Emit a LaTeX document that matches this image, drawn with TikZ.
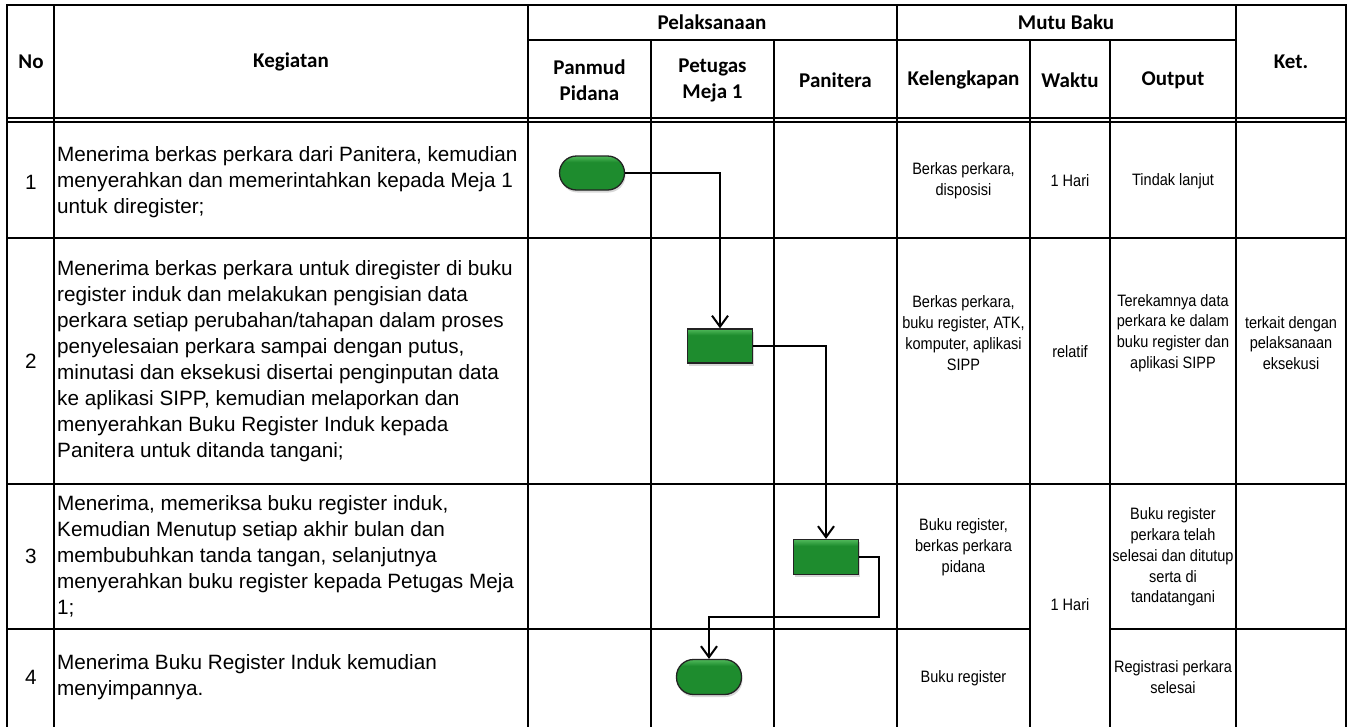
\documentclass[tikz,border=0pt]{standalone}
\usepackage{fontspec}
\setmainfont{Liberation Sans}
\newfontfamily\hdrfont{Carlito}
\newfontfamily\narrowfont[FakeStretch=0.88]{Liberation Sans}
\usetikzlibrary{arrows.meta,shadows}
\definecolor{gfill}{RGB}{30,140,46}
\definecolor{glight}{RGB}{80,185,90}
\definecolor{gborder}{RGB}{35,35,35}
\pgfdeclareverticalshading{gshape}{100bp}{color(0bp)=(gfill); color(25bp)=(gfill); color(66bp)=(gfill); color(75bp)=(glight); color(100bp)=(glight)}
\begin{document}
\begin{tikzpicture}[x=1pt,y=-1pt,
  grid/.style={line width=2.6pt, black, line cap=rect},
  dbl/.style={line width=1.8pt, black},
  hdr/.style={font=\hdrfont\bfseries\fontsize{21}{26}\selectfont, align=center, inner sep=0},
  keg/.style={font=\fontsize{20.7}{26}\selectfont, align=left, anchor=west, inner sep=0},
  num/.style={font=\fontsize{20.7}{26}\selectfont, inner sep=0},
  small/.style={font=\narrowfont\fontsize{16.5}{20.8}\selectfont, align=center, inner sep=0},
  procbox/.style={draw=gborder, line width=1.3pt, shading=gshape, minimum width=65pt, minimum height=34pt, inner sep=0, drop shadow={shadow xshift=1pt, shadow yshift=-2.5pt, opacity=0.3}},
  termbox/.style={procbox, rounded corners=17pt},
  flow/.style={line width=2pt, -{Straight Barb[length=11pt, width=16pt]}}
]
\useasboundingbox (0,0) rectangle (1351,726);
\fill[white] (0,0) rectangle (1351,726);

% table grid
\draw[grid] (7,5) -- (1346,5);
\draw[grid] (528,40) -- (1236,40);
\draw[dbl] (7,118.3) -- (1346,118.3);
\draw[dbl] (7,121.7) -- (1346,121.7);
\draw[grid] (7,238) -- (1346,238);
\draw[grid] (7,484) -- (1346,484);
\draw[grid] (7,629) -- (1030,629);
\draw[grid] (1110,629) -- (1346,629);
\foreach \x in {7,54,528,897,1236,1346} {\draw[grid] (\x,5) -- (\x,730);}
\foreach \x in {651,774,1030,1110} {\draw[grid] (\x,40) -- (\x,730);}

% headers
\node[hdr] (hno) at (31,62) {No};
\node[hdr] (hkeg) at (291,62) {Kegiatan};
\node[hdr] (hpel) at (712,22) {Pelaksanaan};
\node[hdr] (hmutu) at (1066,22) {Mutu Baku};
\node[hdr] (hket) at (1291,62) {Ket.};
\node[hdr] (hpan) at (589.5,80) {Panmud\\Pidana};
\node[hdr] (hpet) at (712.5,80) {Petugas\\Meja 1};
\node[hdr] (hpnt) at (835.5,80) {Panitera};
\node[hdr] (hkel) at (963.5,80) {Kelengkapan};
\node[hdr] (hwak) at (1070,80) {Waktu};
\node[hdr] (hout) at (1173,80) {Output};

% numbers
\node[num] (n1) at (31,182) {1};
\node[num] (n2) at (31,361) {2};
\node[num] (n3) at (31,556) {3};
\node[num] (n4) at (31,677) {4};

% activities
\node[keg] (k1) at (57,182) {Menerima berkas perkara dari Panitera, kemudian\\menyerahkan dan memerintahkan kepada Meja 1\\untuk diregister;};
\node[keg] (k2) at (57,361) {Menerima berkas perkara untuk diregister di buku\\register induk dan melakukan pengisian data\\perkara setiap perubahan/tahapan dalam proses\\penyelesaian perkara sampai dengan putus,\\minutasi dan eksekusi disertai penginputan data\\ke aplikasi SIPP, kemudian melaporkan dan\\menyerahkan Buku Register Induk kepada\\Panitera untuk ditanda tangani;};
\node[keg] (k3) at (57,556) {Menerima, memeriksa buku register induk,\\Kemudian Menutup setiap akhir bulan dan\\membubuhkan tanda tangan, selanjutnya\\menyerahkan buku register kepada Petugas Meja\\1;};
\node[keg] (k4) at (57,677) {Menerima Buku Register Induk kemudian\\menyimpannya.};

% mutu baku
\node[small] (kel1) at (963.5,181) {Berkas perkara,\\disposisi};
\node[small] (w1) at (1070,181) {1 Hari};
\node[small] (o1) at (1173,181) {Tindak lanjut};
\node[small] (kel2) at (963.5,333) {Berkas perkara,\\buku register, ATK,\\komputer, aplikasi\\SIPP};
\node[small] (w2) at (1070,352) {relatif};
\node[small] (o2) at (1173,333) {Terekamnya data\\perkara ke dalam\\buku register dan\\aplikasi SIPP};
\node[small] (ket2) at (1291,343) {terkait dengan\\pelaksanaan\\eksekusi};
\node[small] (kel3) at (963.5,547) {Buku register,\\berkas perkara\\pidana};
\node[small] (w3) at (1070,605) {1 Hari};
\node[small] (o3) at (1173,557) {Buku register\\perkara telah\\selesai dan ditutup\\serta di\\tandatangani};
\node[small] (kel4) at (963.5,678) {Buku register};
\node[small] (o4) at (1173,677) {Registrasi perkara\\selesai};

% flow shapes
\node[termbox] (t1) at (592,173) {};
\node[procbox] (r2) at (720,346) {};
\node[procbox, minimum height=35pt] (r3) at (826,557) {};
\node[termbox, minimum height=35pt] (t4) at (709,677) {};
\coordinate (c1) at (879,617);

\draw[flow] (t1.east) -| (r2.north);
\draw[flow] (r2.east) -| (r3.north);
\draw[flow] (r3.east) -| (c1) -| (t4.north);
\end{tikzpicture}
\end{document}
